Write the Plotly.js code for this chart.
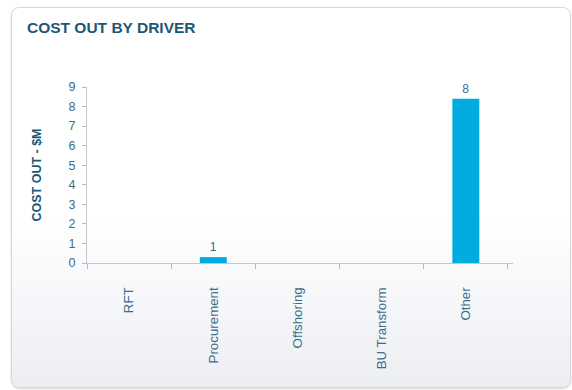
<!DOCTYPE html>
<html>
<head>
<meta charset="utf-8">
<script src="https://cdn.plot.ly/plotly-3.0.1.min.js"></script>
<style>
  html, body { margin: 0; padding: 0; background: #ffffff; }
  #wrap { position: relative; width: 572px; height: 390px; overflow: hidden; background: #ffffff; }
  #card { position: absolute; left: 11px; top: 7px; width: 560px; height: 381px;
          border: 1px solid #d6d8dc; border-radius: 8px; box-sizing: border-box;
          background: linear-gradient(to bottom, #ffffff 0%, #ffffff 55%, #eceef3 100%);
          box-shadow: 0 1px 2px rgba(0,0,0,0.15); }
  #chart { position: absolute; left: 0; top: 0; width: 572px; height: 390px; }
</style>
</head>
<body>
<div id="wrap">
  <div id="card"></div>
  <div id="chart"></div>
</div>
<script>
const categories = ["RFT", "Procurement", "Offshoring", "BU Transform", "Other"];
const costOut = [0, 0.3, 0, 0, 8.4];
const valueLabels = ["", "1", "", "", "8"];
const yTicks = [0, 1, 2, 3, 4, 5, 6, 7, 8, 9];

const textColor = "#3a6d8c";
const titleColor = "#1c5776";
const fontFam = "Liberation Sans, Arial, sans-serif";

const trace = {
  type: "bar",
  x: categories,
  y: costOut,
  text: valueLabels,
  textposition: "outside",
  cliponaxis: false,
  textfont: { family: fontFam, size: 12, color: textColor },
  marker: { color: "#00acdf", line: { width: 0 } },
  width: 0.32,
  hoverinfo: "x+y"
};

const layout = {
  width: 572,
  height: 390,
  margin: { l: 87, r: 59, t: 87, b: 127, pad: 0 },
  paper_bgcolor: "rgba(0,0,0,0)",
  plot_bgcolor: "rgba(0,0,0,0)",
  showlegend: false,
  font: { family: fontFam, color: textColor },
  title: {
    text: "<b>COST OUT BY DRIVER</b>",
    font: { family: fontFam, size: 15.5, color: titleColor },
    xref: "container", yref: "container",
    x: 27 / 572, xanchor: "left",
    y: 1 - 28 / 390, yanchor: "middle"
  },
  xaxis: {
    type: "category",
    range: [-0.5, 4.56],
    tickson: "boundaries",
    ticks: "outside",
    ticklen: 5,
    tickcolor: "#b5b8bc",
    showline: true,
    linecolor: "#c3c6ca",
    linewidth: 1,
    showgrid: false,
    zeroline: false,
    tickangle: -90,
    ticklabelstandoff: 18,
    tickfont: { family: fontFam, size: 13.3, color: textColor },
    fixedrange: true
  },
  yaxis: {
    range: [0, 9],
    tickvals: yTicks,
    ticks: "outside",
    ticklen: 4,
    tickcolor: "#b5b8bc",
    showline: true,
    linecolor: "#c3c6ca",
    linewidth: 1,
    showgrid: false,
    zeroline: false,
    ticklabelstandoff: 4,
    tickfont: { family: fontFam, size: 12.5, color: textColor },
    title: {
      text: "<b>COST OUT - $M</b>",
      font: { family: fontFam, size: 12.5, color: titleColor },
      standoff: 24
    },
    fixedrange: true
  },
  bargap: 0.68
};

Plotly.newPlot("chart", [trace], layout, { displayModeBar: false, staticPlot: true });
</script>
</body>
</html>
